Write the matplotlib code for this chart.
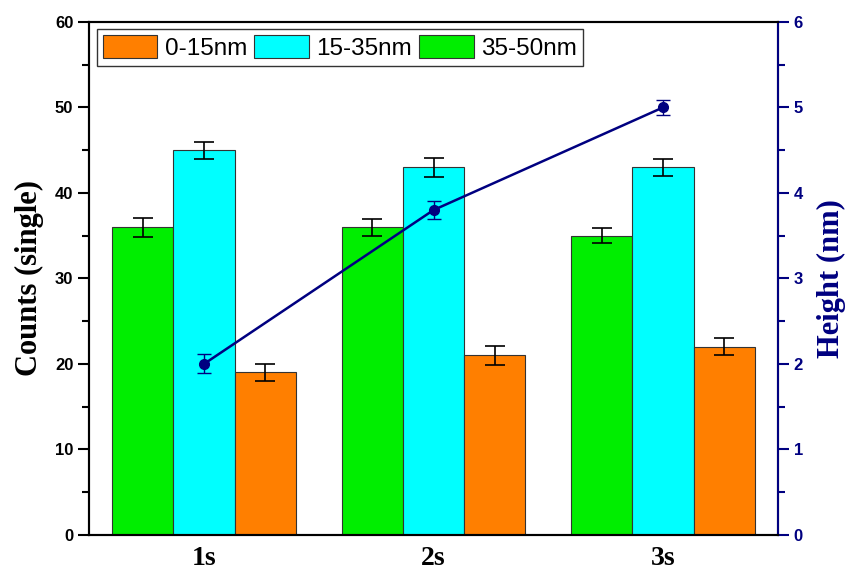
import numpy as np
import matplotlib.pyplot as plt

times = ['1s', '2s', '3s']
small = [19, 21, 22]          # 0-15nm
small_err = [1.0, 1.1, 1.0]
mid = [45, 43, 43]            # 15-35nm
mid_err = [1.0, 1.1, 1.0]
large = [36, 36, 35]          # 35-50nm
large_err = [1.1, 1.0, 0.9]
height = [2.0, 3.8, 5.0]
height_err = [0.11, 0.1, 0.09]

navy = '#000080'
x = np.arange(1, len(times) + 1)
w = 0.8 / 3

fig, ax = plt.subplots(figsize=(8.51, 5.77), dpi=100)
fig.subplots_adjust(left=0.105, right=0.914, top=0.962, bottom=0.073)

ekw = dict(ecolor='black', capsize=7, error_kw=dict(elinewidth=1.2, capthick=1.2))
b3 = ax.bar(x - w, large, w, yerr=large_err, color='#00ee00', edgecolor='#333333', lw=0.8, label='35-50nm', **ekw)
b2 = ax.bar(x, mid, w, yerr=mid_err, color='#00ffff', edgecolor='#333333', lw=0.8, label='15-35nm', **ekw)
b1 = ax.bar(x + w, small, w, yerr=small_err, color='#ff7f00', edgecolor='#333333', lw=0.8, label='0-15nm', **ekw)

ax.set_xlim(0.5, 3.5)
ax.set_ylim(0, 60)
ax.set_xticks(x)
ax.set_xticklabels(times, fontfamily='Liberation Serif', fontweight='bold', fontsize=20)
ax.tick_params(axis='x', length=0, pad=8)
ax.set_yticks(np.arange(0, 61, 10))
ax.set_yticks(np.arange(5, 60, 10), minor=True)
ax.tick_params(axis='y', which='major', length=8, width=1.5, direction='out')
ax.tick_params(axis='y', which='minor', length=5, width=1.5, direction='out')
for lab in ax.get_yticklabels():
    lab.set_fontfamily('Liberation Sans')
    lab.set_fontweight('bold')
    lab.set_fontsize(12)
ax.set_ylabel('Counts (single)', fontfamily='Liberation Serif', fontweight='bold', fontsize=22, labelpad=8)
for s in ax.spines.values():
    s.set_linewidth(1.5)

ax2 = ax.twinx()
ax2.errorbar(x, height, yerr=height_err, color=navy, lw=1.8, marker='o', ms=7,
             capsize=5, elinewidth=1, capthick=1)
ax2.set_ylim(0, 6)
ax2.set_yticks(np.arange(0, 7, 1))
ax2.set_yticks(np.arange(0.5, 6, 1), minor=True)
ax2.tick_params(axis='y', which='major', length=8, width=1.5, colors=navy)
ax2.tick_params(axis='y', which='minor', length=5, width=1.5, colors=navy)
for lab in ax2.get_yticklabels():
    lab.set_fontfamily('Liberation Sans')
    lab.set_fontweight('bold')
    lab.set_fontsize(12)
ax2.set_ylabel('Height (nm)', fontfamily='Liberation Serif', fontweight='bold', fontsize=22,
               color=navy, labelpad=10)
for s in ax2.spines.values():
    s.set_linewidth(1.5)
ax2.spines['right'].set_color(navy)

leg = ax.legend([b1, b2, b3], ['0-15nm', '15-35nm', '35-50nm'], loc='upper left', ncol=3,
                prop={'family': 'Liberation Sans', 'size': 17.5}, frameon=True, fancybox=False,
                edgecolor='black', handlelength=2.25, handleheight=1.05, handletextpad=0.3,
                columnspacing=0.3, borderaxespad=0.3, borderpad=0.25)
leg.get_frame().set_linewidth(1.0)

fig.savefig('out.png', dpi=100)
